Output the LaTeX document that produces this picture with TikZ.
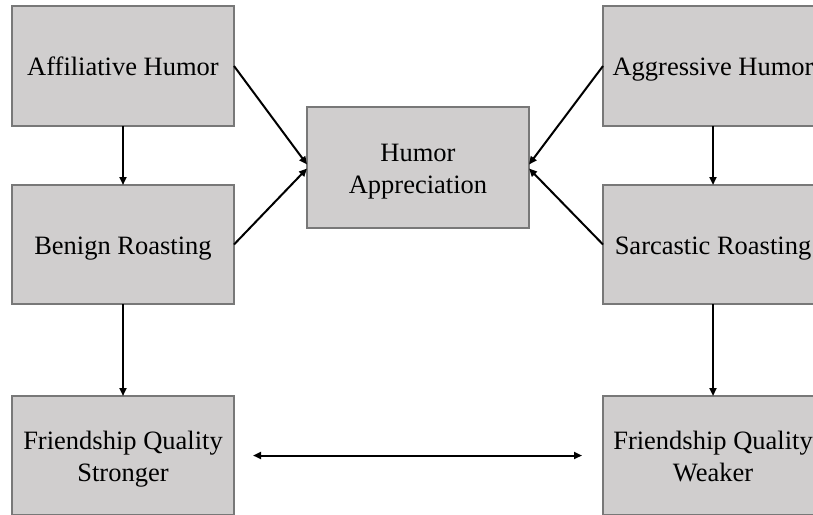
\documentclass[tikz,border=0pt]{standalone}
\usepackage{fontspec}
\setmainfont{Liberation Serif}
\usetikzlibrary{arrows.meta}
\definecolor{boxfill}{RGB}{208,206,206}
\definecolor{boxline}{RGB}{120,120,120}
\newcommand{\tl}[1]{\smash{#1}\rule{0pt}{19pt}}
\begin{document}
\begin{tikzpicture}[x=1pt,y=-1pt,
  box/.style={draw=boxline,fill=boxfill,line width=1.2pt,inner sep=0pt,outer sep=0pt,
    minimum width=222pt,minimum height=120pt,align=center,
    font=\fontsize{26.5}{32}\selectfont},
  arr/.style={line width=2pt,-{Triangle[length=8pt,width=7pt]}},
  darr/.style={line width=2pt,{Triangle[length=8pt,width=7pt]}-{Triangle[length=8pt,width=7pt]}}]
\useasboundingbox (0,0) rectangle (813,514);
\begin{scope}
\clip (0,0) rectangle (813,514);
\node[box] (aff) at (123,66) {\tl{Affiliative Humor}};
\node[box,minimum height=119pt] (ben) at (123,244.5) {\tl{Benign Roasting}};
\node[box,minimum height=119pt] (fqs) at (123,455.5) {\tl{Friendship Quality}\\\tl{Stronger}};
\node[box,minimum width=220pt] (agg) at (713,66) {\tl{Aggressive Humor}};
\node[box,minimum width=220pt,minimum height=119pt] (sar) at (713,244.5) {\tl{Sarcastic Roasting}};
\node[box,minimum width=220pt,minimum height=119pt] (fqw) at (713,455.5) {\tl{Friendship Quality}\\\tl{Weaker}};
\node[box,minimum height=121pt] (app) at (418,167.5) {\tl{Humor}\\\tl{Appreciation}};
\end{scope}
\draw[arr] (aff.south) -- (ben.north);
\draw[arr] (ben.south) -- (fqs.north);
\draw[arr] (agg.south) -- (sar.north);
\draw[arr] (sar.south) -- (fqw.north);
\draw[arr] (aff.east) -- ([yshift=3pt]app.west);
\draw[arr] (ben.east) -- ([yshift=-1pt]app.west);
\draw[arr] (agg.west) -- ([yshift=3pt]app.east);
\draw[arr] (sar.west) -- ([yshift=-1pt]app.east);
\draw[darr] ([xshift=19pt]fqs.east) -- ([xshift=-21pt]fqw.west);
\end{tikzpicture}
\end{document}
